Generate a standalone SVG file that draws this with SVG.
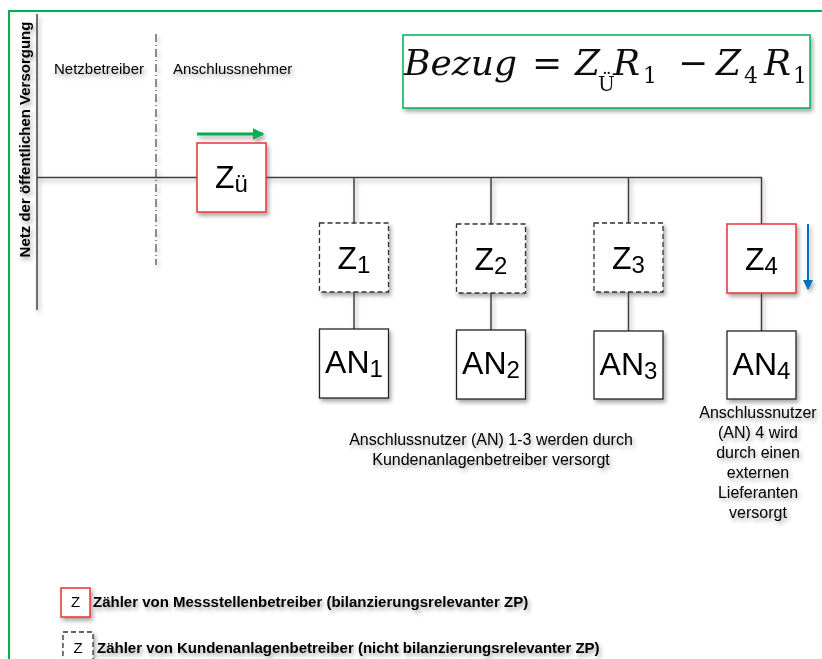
<svg xmlns="http://www.w3.org/2000/svg" width="822" height="659" viewBox="0 0 822 659">
<style>
.t{font-family:"Liberation Sans",Arial,sans-serif;fill:#000}
.b{font-weight:bold}
.ln{stroke:#404040;stroke-width:1.5;fill:none}
.box{fill:#fff;stroke:#222;stroke-width:1.3}
.red{fill:#fff;stroke:#ee3030;stroke-width:1.5}
.dash{fill:#fff;stroke:#333;stroke-width:1.3;stroke-dasharray:5 3}
.big{font-size:32px}
.sub{font-size:24px}
.m{font-size:16px}
.math{font-family:"DejaVu Serif",Cambria,serif;font-style:italic;font-size:36px;fill:#111}
.up{font-family:"DejaVu Serif",Cambria,serif;font-style:normal}
</style>
<defs>
<filter id="sh" x="-10%" y="-10%" width="130%" height="130%">
<feDropShadow dx="2" dy="3" stdDeviation="2" flood-color="#000" flood-opacity="0.35"/>
</filter>
<marker id="ag" markerWidth="4" markerHeight="4" refX="3.5" refY="2" orient="auto" markerUnits="strokeWidth">
<path d="M0,0 L4,2 L0,4 Z" fill="#00b050"/>
</marker>
<marker id="ab" markerWidth="5" markerHeight="5" refX="4.5" refY="2.5" orient="auto" markerUnits="strokeWidth">
<path d="M0,0 L5,2.5 L0,5 Z" fill="#0070c0"/>
</marker>
</defs>
<rect x="9" y="11" width="900" height="900" fill="#fff" stroke="#00b050" stroke-width="2"/>
<g filter="url(#sh)">
<g id="connectors">
<line class="ln" x1="37" y1="14" x2="37" y2="310"/>
<line x1="156" y1="34" x2="156" y2="265" stroke="#444" stroke-width="1.2" stroke-dasharray="8 3 1 3"/>
<line class="ln" x1="37" y1="177.5" x2="762" y2="177.5"/>
<line class="ln" x1="354" y1="177.5" x2="354" y2="223"/>
<line class="ln" x1="491" y1="177.5" x2="491" y2="224"/>
<line class="ln" x1="628.5" y1="177.5" x2="628.5" y2="223"/>
<line class="ln" x1="761.5" y1="177" x2="761.5" y2="224"/>
<line class="ln" x1="354" y1="292" x2="354" y2="329"/>
<line class="ln" x1="491" y1="293" x2="491" y2="330"/>
<line class="ln" x1="628.5" y1="292" x2="628.5" y2="331"/>
<line class="ln" x1="761.5" y1="293" x2="761.5" y2="331"/>
<line x1="197" y1="134" x2="263" y2="134" stroke="#00b050" stroke-width="3" marker-end="url(#ag)"/>
<line x1="808" y1="224" x2="808" y2="289" stroke="#0070c0" stroke-width="2" marker-end="url(#ab)"/>
</g>
<g id="labels">
<text class="t b" font-size="15" transform="translate(30,139.5) rotate(-90)" text-anchor="middle">Netz der öffentlichen Versorgung</text>
<text class="t" font-size="15" x="54" y="74">Netzbetreiber</text>
<text class="t" font-size="15" x="173" y="74">Anschlussnehmer</text>
</g>
<g id="formula">
<rect x="403" y="35" width="407" height="73" fill="#fff" stroke="#00b050" stroke-width="1.5"/>
<text class="math" y="75"><tspan x="404">Bezug</tspan><tspan class="up" x="532">=</tspan><tspan x="575">Z</tspan><tspan class="up" x="598" y="91" font-size="20">Ü</tspan><tspan x="613" y="75">R</tspan><tspan class="up" x="643" y="83" font-size="22">1</tspan><tspan class="up" x="678" y="75">−</tspan><tspan x="716">Z</tspan><tspan class="up" x="744" y="83" font-size="22">4</tspan><tspan x="764" y="75">R</tspan><tspan class="up" x="793" y="83" font-size="22">1</tspan></text>
</g>
<g id="Zue">
<rect class="red" x="197" y="143" width="69" height="69"/>
<text class="t big" x="231.5" y="188" text-anchor="middle">Z<tspan class="sub" dy="4">ü</tspan></text>
</g>
<g id="Z1">
<rect class="dash" x="319.5" y="223" width="69" height="69"/>
<text class="t big" x="354" y="269" text-anchor="middle">Z<tspan class="sub" dy="4">1</tspan></text>
</g>
<g id="Z2">
<rect class="dash" x="456.5" y="224" width="69" height="69"/>
<text class="t big" x="491" y="270" text-anchor="middle">Z<tspan class="sub" dy="4">2</tspan></text>
</g>
<g id="Z3">
<rect class="dash" x="594" y="223" width="69" height="69"/>
<text class="t big" x="628.5" y="269" text-anchor="middle">Z<tspan class="sub" dy="4">3</tspan></text>
</g>
<g id="Z4">
<rect class="red" x="727" y="224" width="69" height="69"/>
<text class="t big" x="761.5" y="270" text-anchor="middle">Z<tspan class="sub" dy="4">4</tspan></text>
</g>
<g id="AN1">
<rect class="box" x="319.5" y="329" width="69" height="69"/>
<text class="t big" x="354" y="373" text-anchor="middle">AN<tspan class="sub" dy="4">1</tspan></text>
</g>
<g id="AN2">
<rect class="box" x="456.5" y="330" width="69" height="69"/>
<text class="t big" x="491" y="374" text-anchor="middle">AN<tspan class="sub" dy="4">2</tspan></text>
</g>
<g id="AN3">
<rect class="box" x="594" y="331" width="69" height="68"/>
<text class="t big" x="628.5" y="375" text-anchor="middle">AN<tspan class="sub" dy="4">3</tspan></text>
</g>
<g id="AN4">
<rect class="box" x="727" y="331" width="69" height="68"/>
<text class="t big" x="761.5" y="375" text-anchor="middle">AN<tspan class="sub" dy="4">4</tspan></text>
</g>
<g id="note13">
<text class="t m" text-anchor="middle"><tspan x="491" y="445">Anschlussnutzer (AN) 1-3 werden durch</tspan><tspan x="491" y="465">Kundenanlagenbetreiber versorgt</tspan></text>
</g>
<g id="note4">
<text class="t m" text-anchor="middle"><tspan x="758" y="418">Anschlussnutzer</tspan><tspan x="758" y="438">(AN) 4 wird</tspan><tspan x="758" y="458">durch einen</tspan><tspan x="758" y="478">externen</tspan><tspan x="758" y="498">Lieferanten</tspan><tspan x="758" y="518">versorgt</tspan></text>
</g>
<g id="legend1">
<rect class="red" x="61" y="588" width="29" height="29"/>
<text class="t" font-size="15" x="75.5" y="607" text-anchor="middle">Z</text>
<text class="t b" font-size="15" x="93" y="607">Zähler von Messstellenbetreiber (bilanzierungsrelevanter ZP)</text>
</g>
<g id="legend2">
<rect class="dash" x="63" y="632" width="30" height="30"/>
<text class="t" font-size="15" x="78" y="653" text-anchor="middle">Z</text>
<text class="t b" font-size="15" x="97" y="653">Zähler von Kundenanlagenbetreiber (nicht bilanzierungsrelevanter ZP)</text>
</g>
</g>
</svg>
